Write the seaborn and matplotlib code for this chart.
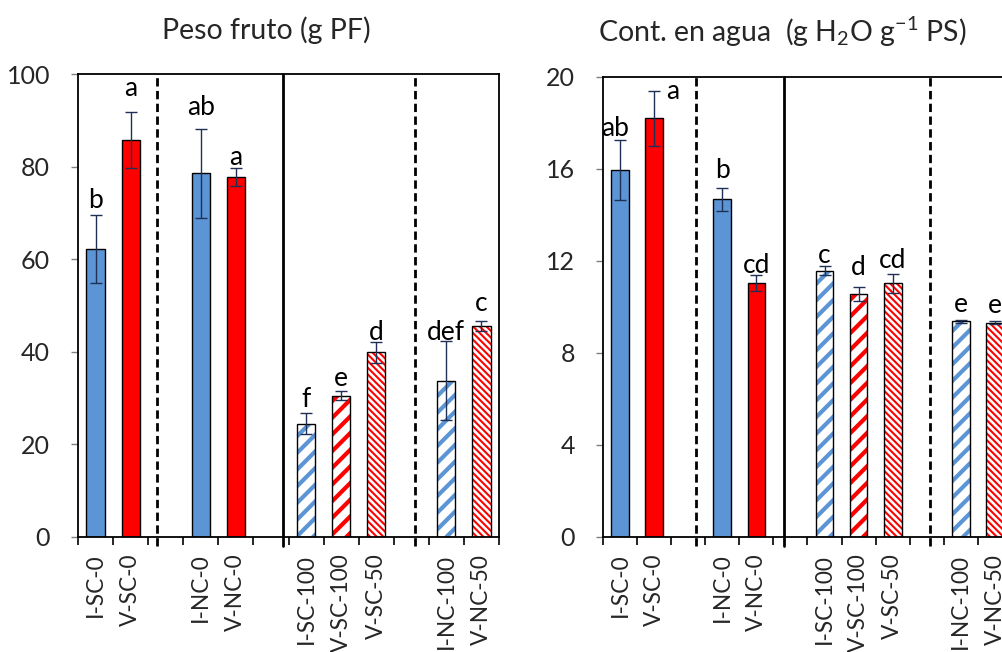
import numpy as np
import pandas as pd
import matplotlib
matplotlib.use("Agg")
import matplotlib.pyplot as plt
import seaborn as sns
from matplotlib.patches import Rectangle

# ---------------- data ----------------
treatments = ["I-SC-0", "V-SC-0", "I-NC-0", "V-NC-0",
              "I-SC-100", "V-SC-100", "V-SC-50", "I-NC-100", "V-NC-50"]
slot_order = ["I-SC-0", "V-SC-0", " ", "I-NC-0", "V-NC-0", "  ",
              "I-SC-100", "V-SC-100", "V-SC-50", "   ", "I-NC-100", "V-NC-50"]

peso = [62.2, 85.7, 78.6, 77.8, 24.5, 30.5, 39.9, 33.8, 45.6]
peso_err = [7.4, 6.0, 9.6, 2.0, 2.2, 1.0, 2.3, 8.6, 1.0]
peso_letters = ["b", "a", "ab", "a", "f", "e", "d", "def", "c"]

agua = [15.96, 18.2, 14.68, 11.06, 11.58, 10.55, 11.03, 9.37, 9.32]
agua_err = [1.3, 1.2, 0.5, 0.35, 0.2, 0.3, 0.4, 0.05, 0.05]
agua_letters = ["ab", "a", "b", "cd", "c", "d", "cd", "e", "e"]

title_peso = "Peso fruto (g PF)"
title_agua = "Cont. en agua  (g H$_2$O g$^{\\mathregular{-}1}$ PS)"

# ---------------- styles ----------------
BLUE = "#5B95D6"
RED = "#FF0000"
ERRC = "#1F2F55"
color_of = {t: (BLUE if t.startswith("I") else RED) for t in treatments}
hatch_of = {"I-SC-100": "//", "V-SC-100": "//", "V-SC-50": "\\\\\\\\\\",
            "I-NC-100": "//", "V-NC-50": "\\\\\\\\\\"}
hatch_lw = {"//": 3.0, "\\\\\\\\\\": 1.5}

sns.set_theme(style="white")
plt.rcParams["font.family"] = ["Lato", "DejaVu Sans"]
plt.rcParams["mathtext.fontset"] = "custom"
plt.rcParams["mathtext.rm"] = "Lato"
plt.rcParams["mathtext.it"] = "Lato"
plt.rcParams["mathtext.default"] = "regular"
FS = 18
FSX = 16.3
FST = 20.5

W, H = 1003, 652
fig = plt.figure(figsize=(W / 100, H / 100), dpi=100)
fig.patch.set_facecolor("white")

# panel geometry in pixels: left, top, right, bottom
ax1 = fig.add_axes([78 / W, (H - 537) / H, (499 - 78) / W, (537 - 74) / H])
ax2 = fig.add_axes([603 / W, (H - 537) / H, (1012 - 603) / W, (537 - 77) / H])


def panel(ax, values, errs, letters, ymax, ystep, seps, nudges):
    df = pd.DataFrame({"trat": treatments, "val": values})
    sns.barplot(data=df, x="trat", y="val", hue="trat", order=slot_order,
                palette=color_of, saturation=1, width=0.52, legend=False,
                edgecolor="black", linewidth=1.0, ax=ax, errorbar=None)
    for p in list(ax.patches):
        idx = int(round(p.get_x() + p.get_width() / 2))
        name = slot_order[idx]
        if name in hatch_of:
            h = hatch_of[name]
            p.set_facecolor("white")
            p.set_edgecolor(color_of[name])
            p.set_linewidth(0)
            p.set_hatch(h)
            if hasattr(p, "set_hatch_linewidth"):
                p.set_hatch_linewidth(hatch_lw[h])
            ax.add_patch(Rectangle(p.get_xy(), p.get_width(), p.get_height(),
                                   fill=False, edgecolor="black", linewidth=1.0,
                                   zorder=p.get_zorder() + 0.1))
    xpos = [slot_order.index(t) for t in treatments]
    ax.errorbar(xpos, values, yerr=errs, fmt="none", ecolor=ERRC,
                elinewidth=1.0, capsize=4.5, capthick=1.0, zorder=5)
    for i, (x, v, e, lab) in enumerate(zip(xpos, values, errs, letters)):
        dx, dy = nudges[i]
        ax.annotate(lab, xy=(x, v + e), xytext=(dx, dy), textcoords="offset pixels",
                    ha="center", va="baseline", fontsize=FS + 1, color="black",
                    annotation_clip=False)
    for xs, style in seps:
        ax.axvline(xs, color="black", linewidth=2.0, linestyle=style, zorder=1,
                   ymin=-0.02, clip_on=False)
    ax.set_xlim(-0.5, len(slot_order) - 0.5)
    ax.set_ylim(0, ymax)
    ax.set_yticks(np.arange(0, ymax + 0.1, ystep))
    ax.set_xticks(range(len(slot_order)))
    ax.set_xticklabels([s.strip() for s in slot_order], rotation=90, fontsize=FSX)
    ax.set_xticks(np.arange(-0.5, len(slot_order), 1.0), minor=True)
    ax.tick_params(axis="x", which="major", length=0, pad=12)
    ax.tick_params(axis="x", which="minor", length=6, width=1.2, color="black",
                   direction="out", bottom=True)
    ax.tick_params(axis="y", length=5, width=1, color="#808080", direction="out",
                   left=True, labelsize=FS, pad=15)
    ax.set_xlabel("")
    ax.set_ylabel("")
    for s in ax.spines.values():
        s.set_color("black")
        s.set_linewidth(1.3)
        s.set_visible(True)


dash = (0, (3, 1.6))
panel(ax1, peso, peso_err, peso_letters, 100, 20,
      [(1.76, dash), (5.35, "-"), (9.1, dash)],
      [(0, 7), (0, 16), (0, 14), (0, 3), (0, 6), (0, 5), (0, 2), (0, 1), (0, 10)])
panel(ax2, agua, agua_err, agua_letters, 20, 4,
      [(2.23, dash), (4.81, "-"), (9.09, dash)],
      [(-5, 4), (19, -8), (0, 10), (0, 2), (0, 3), (0, 12), (0, 6), (0, 8), (0, 8)])

fig.text(266 / W, 1 - 30 / H, title_peso, ha="center", va="center", fontsize=FST)
fig.text(782 / W, 1 - 32 / H, title_agua, ha="center", va="center", fontsize=FST)

fig.savefig("out.png", dpi=100, facecolor="white")
